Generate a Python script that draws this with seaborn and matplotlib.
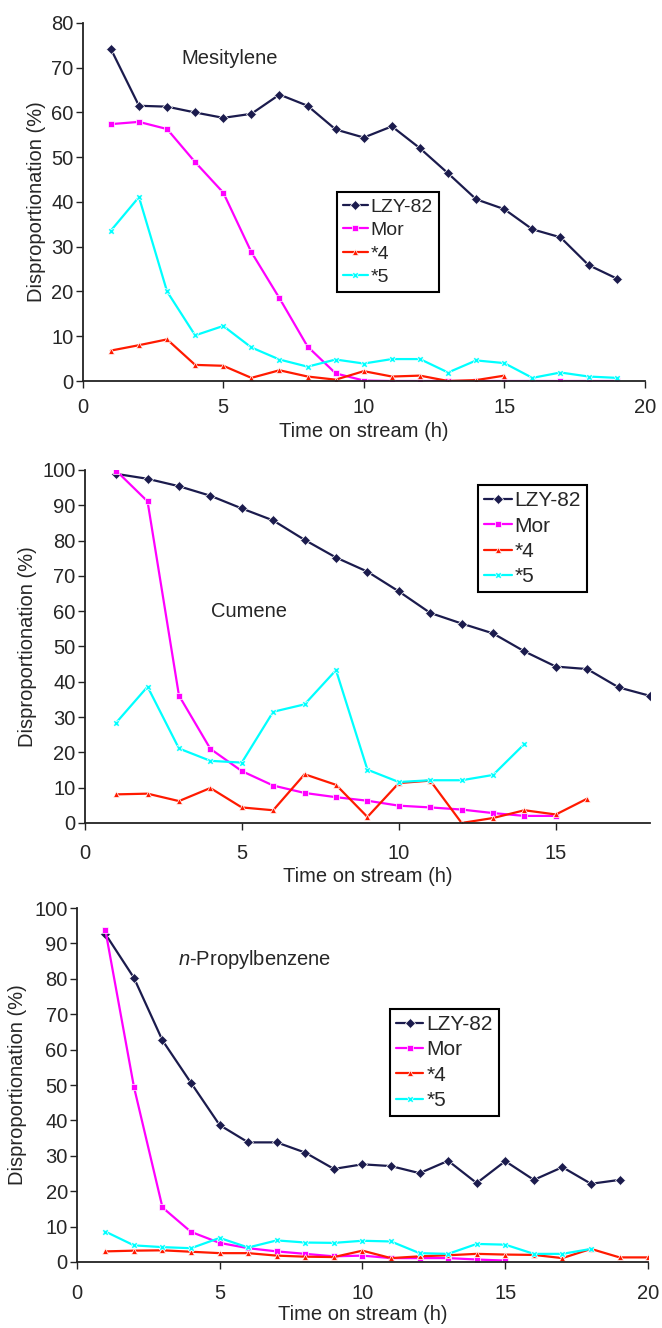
import numpy as np
import pandas as pd
import matplotlib
matplotlib.use("Agg")
import matplotlib.pyplot as plt
import seaborn as sns

# series names shared by all three panels
series_names = ["LZY-82", "Mor", "*4", "*5"]

# Mesitylene panel
mes_lzy = [74.2, 61.5, 61.3, 60.0, 58.8, 59.7, 64.0, 61.5, 56.2, 54.4,
           56.9, 52.0, 46.4, 40.6, 38.4, 33.9, 32.1, 25.9, 22.9]
mes_mor = [57.4, 57.9, 56.3, 48.9, 42.1, 28.8, 18.5, 7.7, 1.7, 0.1,
           0, 0, 0, 0, 0, 0, 0, 0, 0]
mes_4 = [6.8, 8.0, 9.3, 3.6, 3.4, 0.7, 2.4, 1.0, 0.3, 2.2, 1.0, 1.2, 0, 0.2, 1.2]
mes_5 = [33.6, 41.1, 20.0, 10.2, 12.3, 7.5, 4.8, 3.2, 4.8, 3.9,
         4.9, 4.9, 1.9, 4.6, 4.0, 0.7, 1.9, 1.0, 0.7]

# Cumene panel
cum_lzy = [98.9, 97.5, 95.4, 92.7, 89.1, 85.7, 80.2, 75.2, 71.2, 65.6,
           59.5, 56.5, 53.7, 48.6, 44.3, 43.6, 38.4, 36.0]
cum_mor = [99.8, 91.1, 36.1, 21.0, 14.7, 10.6, 8.5, 7.3, 6.3, 4.9,
           4.4, 3.8, 2.8, 2.0, 2.0]
cum_4 = [8.1, 8.3, 6.2, 9.9, 4.4, 3.6, 13.8, 10.8, 1.7, 11.3,
         12.0, 0, 1.4, 3.6, 2.4, 6.9]
cum_5 = [28.4, 38.6, 21.1, 17.6, 17.1, 31.5, 33.6, 43.3, 15.1, 11.6,
         12.1, 12.1, 13.6, 22.4]

# n-Propylbenzene panel
pro_lzy = [92.7, 80.3, 62.6, 50.6, 38.7, 33.8, 33.8, 30.9, 26.3, 27.6,
           27.1, 25.1, 28.6, 22.3, 28.5, 23.2, 26.8, 22.1, 23.2]
pro_mor = [93.8, 49.5, 15.4, 8.5, 5.4, 3.9, 3.0, 2.3, 1.6, 1.8,
           1.1, 1.1, 1.1, 0.7, 0.4]
pro_4 = [3.0, 3.2, 3.3, 2.9, 2.5, 2.5, 1.8, 1.5, 1.4, 3.2,
         1.1, 1.6, 1.9, 2.3, 2.1, 2.0, 1.1, 3.7, 1.3, 1.3]
pro_5 = [8.6, 4.7, 4.2, 3.9, 6.8, 4.1, 6.1, 5.5, 5.4, 6.0,
         5.8, 2.5, 2.3, 5.1, 4.9, 2.3, 2.3, 3.7]

palette = {"LZY-82": "#1b1b4d", "Mor": "#ff00ff", "*4": "#ff1a00", "*5": "#00ffff"}
markers = {"LZY-82": "D", "Mor": "s", "*4": "^", "*5": "X"}


def long_df(lzy, mor, s4, s5):
    rows = []
    for name, vals in zip(series_names, [lzy, mor, s4, s5]):
        for i, v in enumerate(vals):
            rows.append({"time": i + 1, "value": v, "series": name})
    return pd.DataFrame(rows)


sns.set_style("ticks")
plt.rcParams["font.family"] = ["Liberation Sans", "DejaVu Sans"]
plt.rcParams["mathtext.fontset"] = "custom"
plt.rcParams["mathtext.it"] = "Liberation Sans:italic"
plt.rcParams["mathtext.rm"] = "Liberation Sans"

fig = plt.figure(figsize=(6.62, 13.28), dpi=100)

panels = [
    dict(df=long_df(mes_lzy, mes_mor, mes_4, mes_5), rect=[0.125, 0.7131, 0.849, 0.2696],
         xlim=(0, 20), xticks=[0, 5, 10, 15, 20], ylim=(0, 80), yticks=range(0, 81, 10),
         label="Mesitylene", lab_xy=(0.176, 0.90), leg_xy=(0.452, 0.527), leg_fs=14,
         xpad=7.5, xlabpad=3.5, ylabpad=4),
    dict(df=long_df(cum_lzy, cum_mor, cum_4, cum_5), rect=[0.128, 0.3803, 0.854, 0.2658],
         xlim=(0, 18), xticks=[0, 5, 10, 15], ylim=(0, 100), yticks=range(0, 101, 10),
         label="Cumene", lab_xy=(0.223, 0.598), leg_xy=(0.696, 0.957), leg_fs=15,
         xpad=10.5, xlabpad=2.5, ylabpad=4),
    dict(df=long_df(pro_lzy, pro_mor, pro_4, pro_5), rect=[0.116, 0.0497, 0.863, 0.2665],
         xlim=(0, 20), xticks=[0, 5, 10, 15, 20], ylim=(0, 100), yticks=range(0, 101, 10),
         label=r"$\mathit{n}$-Propylbenzene", lab_xy=(0.177, 0.856), leg_xy=(0.548, 0.715),
         leg_fs=15, xpad=10.5, xlabpad=1.5, ylabpad=5),
]

for p in panels:
    ax = fig.add_axes(p["rect"])
    sns.lineplot(data=p["df"], x="time", y="value", hue="series", style="series",
                 hue_order=series_names, style_order=series_names,
                 palette=palette, markers=markers, dashes=False,
                 linewidth=1.6, markersize=5, markeredgewidth=0.5, ax=ax)
    ax.set_xlim(*p["xlim"])
    ax.set_ylim(*p["ylim"])
    ax.set_xticks(p["xticks"])
    ax.set_yticks(list(p["yticks"]))
    ax.set_xlabel("Time on stream (h)", fontsize=14.5, labelpad=p["xlabpad"])
    ax.set_ylabel("Disproportionation (%)", fontsize=14.5, labelpad=p["ylabpad"])
    ax.tick_params(labelsize=14.5, length=5, width=1, color="#222222")
    ax.tick_params(axis="x", pad=p["xpad"])
    ax.tick_params(axis="y", pad=1.5)
    sns.despine(ax=ax)
    for s in ["left", "bottom"]:
        ax.spines[s].set_linewidth(1.3)
        ax.spines[s].set_color("#222222")
    ax.text(p["lab_xy"][0], p["lab_xy"][1], p["label"], transform=ax.transAxes,
            fontsize=14.5, va="center", ha="left")
    handles, labels = ax.get_legend_handles_labels()
    leg = ax.legend(handles, labels, loc="upper left", bbox_to_anchor=p["leg_xy"],
                    fontsize=p["leg_fs"], frameon=True, fancybox=False, edgecolor="black",
                    framealpha=1, handlelength=1.3, handletextpad=0.15,
                    borderpad=0.3, labelspacing=0.3, borderaxespad=0)
    leg.get_frame().set_linewidth(1.5)

fig.savefig("out.png", dpi=100)
